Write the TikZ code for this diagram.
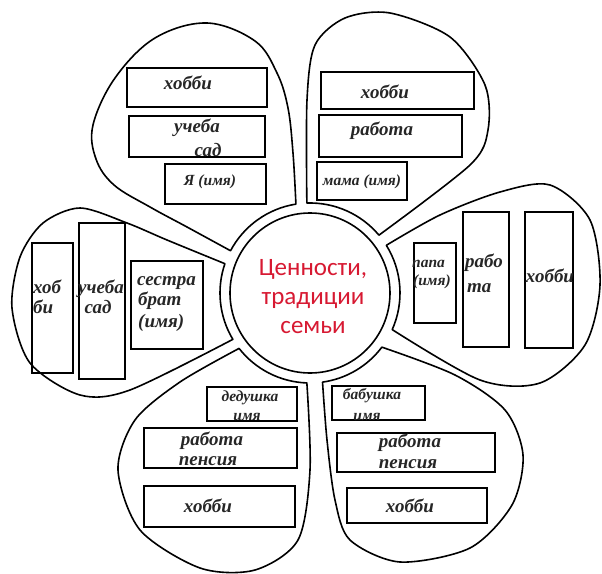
\documentclass[tikz,border=0pt]{standalone}
\usepackage{fontspec}
\setmainfont{Liberation Serif}
\newfontfamily\centerfont{Carlito}
\usepackage{tikz}
\definecolor{valred}{RGB}{215,25,50}

\tikzset{
  petal/.style={line width=1.6pt, line join=round},
  tag/.style={line width=2.2pt},
  lbl/.style={inner sep=0pt, anchor=base, text=black!85, font=\bfseries\itshape\fontsize{19}{23}\selectfont},
  lblsm/.style={lbl, font=\bfseries\itshape\fontsize{15.5}{19}\selectfont},
}

\begin{document}
\begin{tikzpicture}[x=1pt, y=1pt]
      \useasboundingbox (-310,-280) rectangle (292,293);

      % six petals, each closed along the middle circle
      \draw[petal] plot[smooth, tension=0.6] coordinates {(99:90) (-17,140) (-22,185) (-33,220) (-55,252) (-103,270) (-155,255) (-195,215) (-217,168) (-214,134) (-196,108) (-160,86) (-123,66) (152:90)} arc[start angle=152, end angle=99, radius=90] -- cycle;
      \draw[petal] plot[smooth] coordinates {(40:90) (160,128) (178,163) (175,208) (140,256) (80,280) (35,275) (5,248) (-3,193) (92:90)} arc[start angle=92, end angle=40, radius=90] -- cycle;
      \draw[petal] plot[smooth] coordinates {(-24:90) (170,-87) (230,-90) (275,-52) (290,8) (280,73) (240,108) (190,101) (130,78) (32:90)} arc[start angle=32, end angle=-24, radius=90] -- cycle;
      \draw[petal] plot[smooth] coordinates {(-82:90) (17,-147) (25,-207) (40,-247) (90,-269) (160,-255) (202,-212) (213,-162) (195,-117) (145,-82) (-37:90)} arc[start angle=-37, end angle=-82, radius=90] -- cycle;
      \draw[petal] plot[smooth] coordinates {(218:90) (-130,-89) (-175,-127) (-192,-177) (-170,-237) (-110,-275) (-55,-277) (-12,-247) (0,-177) (268:90)} arc[start angle=268, end angle=218, radius=90] -- cycle;
      \draw[petal] plot[smooth] coordinates {(161:90) (-143,53) (-183,70) (-230,85) (-267,70) (-290,36) (-298,-15) (-280,-70) (-230,-102) (-180,-97) (211:90)} arc[start angle=211, end angle=161, radius=90] -- cycle;

      \draw[petal] (0,0) circle[radius=80];
      \node[font=\centerfont\fontsize{25}{29}\selectfont, text=valred, align=center] (values) at (3,-4) {Ценности,\\традиции\\семьи};

      % boxes
      \foreach \xa/\ya/\xb/\yb in {-183/225/-43/186, -181/177/-45/136, -145/129/-44/89,
                                   11/221/164/184, 9/178/152/136, 7/131/97/93,
                                   104/50/146/-30, 153/81/199/-54, 215/81/263/-55,
                                   -278/50/-237/-80, -231/70/-185/-86, -179/32/-107/-56,
                                   -103/-94/-13/-128, -166/-135/-13/-175, -166/-193/-15/-234,
                                   22/-93/115/-127, 27/-140/185/-179, 37/-195/177/-230}{
        \draw[tag] (\xa,\ya) rectangle (\xb,\yb);
      }

      % me
      \node[lbl] (me-hobby) at (-122,203) {хобби};
      \node[lbl] (me-study) at (-113,160) {учеба};
      \node[lbl] (me-garden) at (-102,136) {сад};
      \node[lblsm] (me-name) at (-100,107) {Я (имя)};

      % mother
      \node[lbl] (mom-hobby) at (75,194) {хобби};
      \node[lbl] (mom-work) at (72,157) {работа};
      \node[lblsm] (mom-name) at (52,107) {мама (имя)};

      % father
      \node[lblsm, anchor=base west] (dad-name) at (102,26) {папа};
      \node[lblsm, anchor=base west] (dad-name2) at (103,8) {(имя)};
      \node[lbl, anchor=base west] (dad-work) at (155,26) {рабо};
      \node[lbl, anchor=base west] (dad-work2) at (157,1) {та};
      \node[lbl] (dad-hobby) at (240,11) {хобби};

      % sibling
      \node[lbl, anchor=base west] (sib-hobby) at (-277,0) {хоб};
      \node[lbl, anchor=base west] (sib-hobby2) at (-277,-20) {би};
      \node[lbl] (sib-study) at (-209,0) {учеба};
      \node[lbl] (sib-garden) at (-212,-20) {сад};
      \node[lbl, anchor=base west] (sib-name) at (-173,8) {сестра};
      \node[lbl, anchor=base west] (sib-name2) at (-172,-12) {брат};
      \node[lbl, anchor=base west] (sib-name3) at (-172,-34) {(имя)};

      % grandfather
      \node[lblsm] (gpa-name) at (-60,-108) {дедушка};
      \node[lblsm] (gpa-name2) at (-63,-127) {имя};
      \node[lbl] (gpa-work) at (-98,-152) {работа};
      \node[lbl] (gpa-work2) at (-102,-172) {пенсия};
      \node[lbl] (gpa-hobby) at (-102,-219) {хобби};

      % grandmother
      \node[lblsm] (gma-name) at (62,-106) {бабушка};
      \node[lblsm] (gma-name2) at (57,-127) {имя};
      \node[lbl] (gma-work) at (100,-154) {работа};
      \node[lbl] (gma-work2) at (98,-175) {пенсия};
      \node[lbl] (gma-hobby) at (100,-219) {хобби};

\end{tikzpicture}
\end{document}
